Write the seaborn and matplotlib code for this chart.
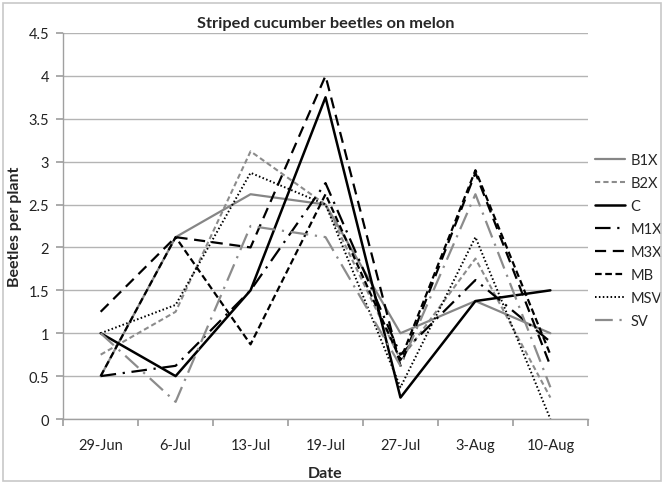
import matplotlib
matplotlib.use("Agg")
import matplotlib.pyplot as plt
import seaborn as sns
import pandas as pd
from matplotlib.patches import Rectangle

dates = ["29-Jun", "6-Jul", "13-Jul", "19-Jul", "27-Jul", "3-Aug", "10-Aug"]
B1X = [0.5, 2.12, 2.62, 2.5, 1.0, 1.375, 1.0]
B2X = [0.75, 1.25, 3.12, 2.5, 0.69, 1.87, 0.25]
C = [1.0, 0.5, 1.5, 3.75, 0.25, 1.375, 1.5]
M1X = [0.5, 0.62, 1.5, 2.75, 0.75, 1.62, 0.9]
M3X = [1.25, 2.12, 2.0, 4.0, 0.62, 2.87, 0.62]
MB = [0.5, 2.12, 0.87, 2.62, 0.69, 2.9, 0.75]
MSV = [1.0, 1.33, 2.87, 2.5, 0.37, 2.12, 0.0]
SV = [1.0, 0.2, 2.25, 2.12, 0.62, 2.62, 0.37]

series = {"B1X": B1X, "B2X": B2X, "C": C, "M1X": M1X, "M3X": M3X,
          "MB": MB, "MSV": MSV, "SV": SV}
names = list(series.keys())

rows = []
for name, vals in series.items():
    for i, v in enumerate(vals):
        rows.append({"pos": i, "date": dates[i], "series": name, "value": v})
df = pd.DataFrame(rows)

sns.set_theme(style="white")
plt.rcParams["font.family"] = ["Lato", "DejaVu Sans"]

palette = {"B1X": "#868686", "B2X": "#8c8c8c", "C": "#000000", "M1X": "#000000",
           "M3X": "#000000", "MB": "#000000", "MSV": "#000000", "SV": "#8c8c8c"}
dashes = {"B1X": "", "B2X": (2.5, 1.5), "C": "", "M1X": (7, 3, 1, 3),
          "M3X": (5, 3), "MB": (3, 1.6), "MSV": (0.8, 1.2), "SV": (8, 3, 1, 3)}
widths = {"B1X": 1.6, "B2X": 1.5, "C": 1.8, "M1X": 1.6, "M3X": 1.6,
          "MB": 1.6, "MSV": 1.4, "SV": 1.6}

fig = plt.figure(figsize=(6.65, 4.85), dpi=100)
ax = fig.add_axes([0.095, 0.134, 0.789, 0.796])

sns.lineplot(data=df, x="pos", y="value", hue="series", style="series",
             palette=palette, dashes=dashes, hue_order=names, style_order=names,
             sort=False, ax=ax, legend=True)

for line, name in zip(ax.lines, names):
    line.set_linewidth(widths[name])

ax.set_ylim(0, 4.5)
ax.set_yticks([0, 0.5, 1, 1.5, 2, 2.5, 3, 3.5, 4, 4.5])
ax.set_yticklabels(["0", "0.5", "1", "1.5", "2", "2.5", "3", "3.5", "4", "4.5"])
ax.set_xlim(-0.5, len(dates) - 0.5)
ax.set_xticks([i - 0.5 for i in range(len(dates) + 1)])
ax.set_xticklabels([])
ax.set_xticks(range(len(dates)), minor=True)
ax.set_xticklabels(dates, minor=True)
ax.tick_params(axis="x", which="major", length=5, color="#a0a0a0", direction="out", bottom=True)
ax.tick_params(axis="x", which="minor", length=0, pad=14, labelsize=10.5, labelcolor="#222222")
ax.tick_params(axis="y", length=5, color="#a0a0a0", direction="out", left=True,
               labelsize=10.5, labelcolor="#222222", pad=5)
ax.grid(axis="y", color="#b4b4b4", linewidth=1.0)
ax.set_axisbelow(True)
for s in ["top", "right"]:
    ax.spines[s].set_visible(False)
for s in ["left", "bottom"]:
    ax.spines[s].set_color("#a0a0a0")
    ax.spines[s].set_linewidth(1.0)

ax.set_xlabel("Date", fontsize=11.5, fontweight="bold", labelpad=10)
ax.set_ylabel("Beetles per plant", fontsize=11.5, fontweight="bold")
ax.yaxis.set_label_coords(-0.078, 0.5)
ax.set_title("Striped cucumber beetles on melon", fontsize=11.8, fontweight="bold", pad=4)

leg = ax.legend(loc="upper left", bbox_to_anchor=(1.013, 0.69), frameon=False,
                handlelength=2.1, labelspacing=0.62, fontsize=10.5, handletextpad=0.35,
                borderaxespad=0, borderpad=0)
for h, name in zip(leg.get_lines(), names):
    h.set_linewidth(widths[name])

fig.patches.append(Rectangle((0.004, 0.006), 0.99, 0.986, transform=fig.transFigure,
                             fill=False, edgecolor="#c8c8c8", linewidth=1.2))

fig.savefig("out.png", dpi=100)
